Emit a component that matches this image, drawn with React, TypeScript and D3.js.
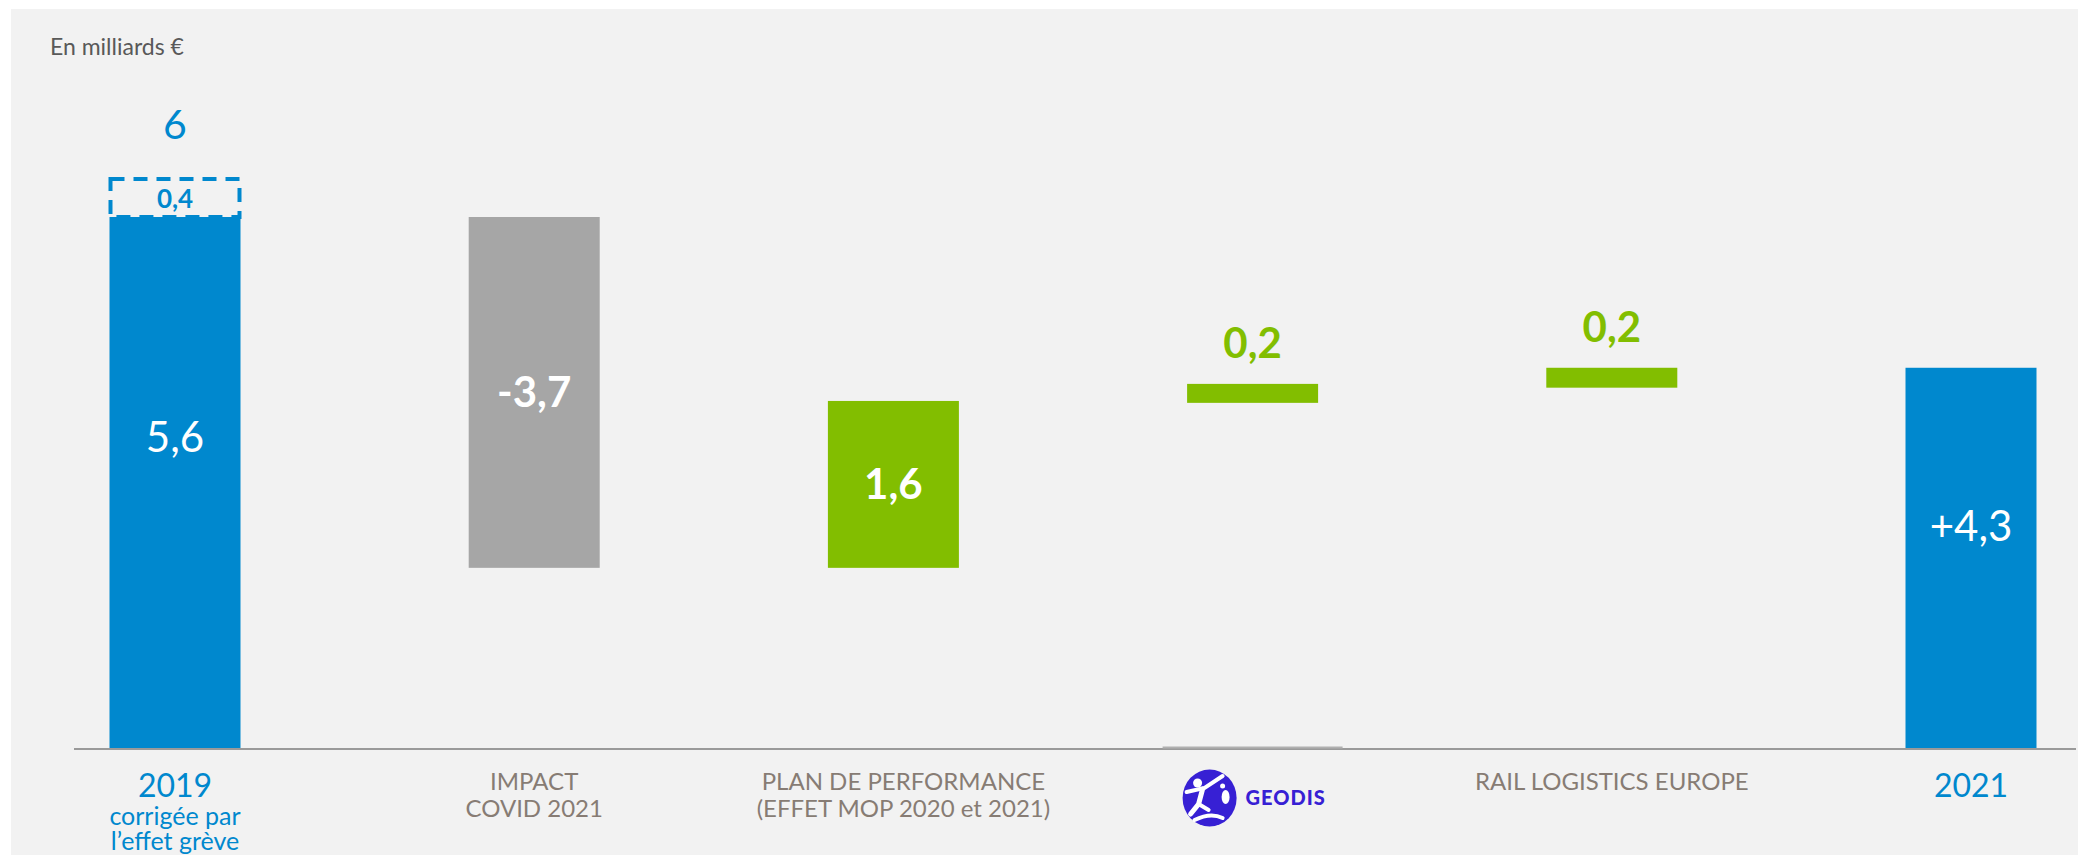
import React from "react";
import * as d3 from "d3";

const categories = ["2019", "IMPACT COVID 2021", "PLAN DE PERFORMANCE", "GEODIS", "RAIL LOGISTICS EUROPE", "2021"];
const barBase = [0, 1.9, 1.9, 3.64, 3.8, 0];
const barTop = [5.6, 5.6, 3.66, 3.84, 4.01, 4.01];
const valueLabels = ["5,6", "-3,7", "1,6", "0,2", "0,2", "+4,3"];
const barKind = ["total", "negative", "positive", "positive", "positive", "total"];
const axisLines = [
  ["2019", "corrigée par", "l’effet grève"],
  ["IMPACT", "COVID 2021"],
  ["PLAN DE PERFORMANCE", "(EFFET MOP 2020 et 2021)"],
  [],
  ["RAIL LOGISTICS EUROPE"],
  ["2021"],
];
const strikeEffect = 0.4;
const strikeLabel = "0,4";
const totalLabel = "6";
const unitLabel = "En milliards €";

const W = 2078;
const H = 855;
const BLUE = "#0088ce";
const GREY = "#a6a6a6";
const GREEN = "#82be00";
const TAUPE = "#877c74";
const FONT = "Lato, 'Open Sans', sans-serif";

export default function App() {
  const x = d3.scalePoint<string>().domain(categories).range([175, 1971]);
  const y = d3.scaleLinear().domain([0, 5.6]).range([748, 217]);
  const bw = 131;
  const colorOf = (k: string) => (k === "total" ? BLUE : k === "negative" ? GREY : GREEN);

  const c0 = x(categories[0])!;
  const strikeTop = y(barTop[0] + strikeEffect);
  const geodisX = x(categories[3])!;

  return (
    <svg width={W} height={H} style={{ position: "absolute", left: 0, top: 0 }} fontFamily={FONT}>
      <rect x={0} y={0} width={W} height={H} fill="#ffffff" />
      <rect x={11} y={9} width={W - 11} height={H - 9} fill="#f2f2f2" />

      <text x={50} y={55} fontSize={23} fill="#595959">{unitLabel}</text>

      {/* baseline */}
      <line x1={74} x2={2076} y1={y(0) + 1} y2={y(0) + 1} stroke="#9a9a9a" strokeWidth={2} />
      <line x1={geodisX - 90} x2={geodisX + 90} y1={y(0) - 0.5} y2={y(0) - 0.5} stroke="#b0b0b0" strokeWidth={2} />

      {/* bars */}
      {categories.map((c, i) => {
        const cx = x(c)!;
        const y1 = y(barTop[i]);
        const y0 = y(barBase[i]);
        return <rect key={c} x={cx - bw / 2} y={y1} width={bw} height={y0 - y1} fill={colorOf(barKind[i])} />;
      })}

      {/* strike effect dashed box */}
      <rect x={c0 - bw / 2 + 1} y={strikeTop} width={bw - 2} height={y(barTop[0]) - strikeTop}
        fill="none" stroke={BLUE} strokeWidth={4} strokeDasharray="14 9" />
      <text x={c0} y={(strikeTop + y(barTop[0])) / 2 + 10} textAnchor="middle" fontSize={26} fontWeight={700} fill={BLUE}>{strikeLabel}</text>
      <text x={c0} y={139} textAnchor="middle" fontSize={41} fill={BLUE}>{totalLabel}</text>

      {/* value labels */}
      {categories.map((c, i) => {
        const cx = x(c)!;
        const k = barKind[i];
        const h = barTop[i] - barBase[i];
        if (h < 0.5) {
          return (
            <text key={c} x={cx} y={y(barTop[i]) - 26} textAnchor="middle" fontSize={42} fontWeight={700} fill={GREEN}>{valueLabels[i]}</text>
          );
        }
        const frac = k === "total" ? 0.585 : 0.5;
        const mid = y(barBase[i] + h * frac);
        return (
          <text key={c} x={cx} y={mid + 15} textAnchor="middle" fontSize={42} fontWeight={k === "total" ? 400 : 700} fill="#ffffff">{valueLabels[i]}</text>
        );
      })}

      {/* axis labels */}
      {categories.map((c, i) => {
        const cx = x(c)!;
        const lines = axisLines[i];
        const isTotal = barKind[i] === "total";
        return lines.map((l, j) => {
          if (isTotal) {
            return (
              <text key={c + j} x={cx} y={j === 0 ? 797 : j === 1 ? 825 : 850} textAnchor="middle"
                fontSize={j === 0 ? 32 : 25} fill={BLUE}>{l}</text>
            );
          }
          return (
            <text key={c + j} x={cx + (i === 2 ? 10 : 0)} y={790 + j * 27} textAnchor="middle" fontSize={24} fill={TAUPE}>{l}</text>
          );
        });
      })}

      {/* GEODIS logo */}
      <g>
        <ellipse cx={geodisX - 43} cy={798} rx={27} ry={28.5} fill="#3720d4" />
        <circle cx={geodisX - 55} cy={783} r={4.5} fill="#ffffff" />
        <path d={`M${geodisX - 66},${792} L${geodisX - 48},${788} L${geodisX - 30},${776}`} stroke="#fff" strokeWidth={4} fill="none" strokeLinecap="round" />
        <path d={`M${geodisX - 50},${789} L${geodisX - 54},${804} L${geodisX - 62},${814}`} stroke="#fff" strokeWidth={5} fill="none" strokeLinecap="round" />
        <path d={`M${geodisX - 54},${804} L${geodisX - 44},${810}`} stroke="#fff" strokeWidth={4} fill="none" strokeLinecap="round" />
        <path d={`M${geodisX - 58},${820} Q${geodisX - 42},${812} ${geodisX - 30},${818}`} stroke="#fff" strokeWidth={4} fill="none" strokeLinecap="round" />
        <ellipse cx={geodisX - 27} cy={797} rx={4} ry={7} fill="#fff" />
        <circle cx={geodisX - 30} cy={786} r={2.5} fill="#fff" />
        <text x={geodisX - 7} y={805} fontSize={20} fontWeight={900} fill="#3720d4" letterSpacing={1}>GEODIS</text>
      </g>
    </svg>
  );
}
